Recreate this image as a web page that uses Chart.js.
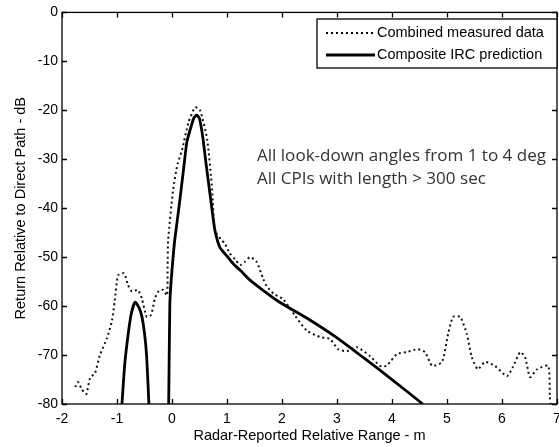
<!DOCTYPE html>
<html>
<head>
<meta charset="utf-8">
<script src="https://cdn.jsdelivr.net/npm/chart.js@4.4.0/dist/chart.umd.min.js"></script>
<style>
  html, body { margin: 0; padding: 0; background: #fff; overflow: hidden; }
  #wrap { width: 559px; height: 447px; }
</style>
</head>
<body>
<div id="wrap"><canvas id="irc" width="559" height="447"></canvas></div>
<script>
// Combined measured data (dotted)
const measX = [-1.76, -1.71, -1.64, -1.56, -1.49, -1.40, -1.31, -1.18, -1.09, -1.04,
    -0.98, -0.87, -0.80, -0.73, -0.62, -0.55, -0.46, -0.38, -0.31, -0.24,
    -0.16, -0.09, -0.08, -0.07, 0.02, 0.10, 0.18, 0.30, 0.42, 0.51,
    0.64, 0.73, 0.78, 0.90, 0.96, 1.05, 1.15, 1.24, 1.32, 1.42,
    1.54, 1.66, 1.72, 1.85, 2.02, 2.24, 2.45, 2.69, 2.87, 3.02,
    3.18, 3.36, 3.60, 3.78, 3.90, 4.09, 4.27, 4.47, 4.60, 4.73,
    4.91, 5.02, 5.11, 5.24, 5.36, 5.45, 5.56, 5.69, 5.87, 6.09,
    6.20, 6.33, 6.42, 6.51, 6.64, 6.84, 6.87, 6.88];
const measY = [-76.5, -75.5, -77, -78, -74.7, -73.7, -70, -66.5, -62.9, -58.8,
    -53.7, -53.3, -55.7, -57, -56.7, -58.4, -62.2, -61.8, -58.4, -56.9,
    -56.7, -57.8, -52, -46.5, -36.3, -31, -28.2, -22.5, -19.4, -20,
    -26, -36.3, -44.5, -46.5, -47.2, -49.2, -50.5, -51.6, -51, -50,
    -51, -54.5, -55.9, -57.5, -58.6, -62, -65, -66.3, -66.7, -68.8,
    -69.2, -68.4, -70.2, -72.2, -72.2, -69.8, -69.4, -68.8, -69.4, -72.2,
    -71.4, -65.7, -62.2, -62.2, -65.7, -70.4, -72.9, -71.4, -72.2, -74.3,
    -72.4, -69.4, -70.4, -74.5, -72.9, -72.2, -78.6, -80];

// Composite IRC prediction (solid); null splits the side lobe from the main lobe
const predX = [-0.91, -0.86, -0.80, -0.74, -0.67, -0.60, -0.55, -0.50, -0.46, -0.42,
    -0.2,
    -0.06, -0.04, -0.02, 0.02, 0.05, 0.09, 0.15, 0.20, 0.27, 0.33,
    0.40, 0.45, 0.50, 0.56, 0.62, 0.69, 0.73, 0.78, 0.87, 1.00,
    1.11, 1.25, 1.42, 1.60, 1.93, 2.5, 3.0, 3.5, 4.0, 4.56];
const predY = [-80, -72, -66, -61.5, -59.2, -60.3, -62, -65.5, -70.4, -80,
    null,
    -80, -60, -55.5, -50, -46.5, -43, -37.7, -33, -26.5, -24,
    -21.5, -21, -21.7, -25.5, -31, -37, -40.5, -44.5, -48, -49.8,
    -51.3, -52.8, -54.7, -56.3, -59, -62.8, -66.5, -70.7, -75, -80];

const xTicks = [-2, -1, 0, 1, 2, 3, 4, 5, 6, 7];
const yTicks = [0, -10, -20, -30, -40, -50, -60, -70, -80];

const noteLines = ['All look-down angles from 1 to 4 deg', 'All CPIs with length > 300 sec'];

function toPoints(xs, ys){
    return xs.map((x, i) => ({x: x, y: ys[i]}));
}

const FONT = 'Liberation Sans, Arial, sans-serif';

// matlab style box with inward ticks, legend box and the note text
const boxPlugin = {
    id: 'boxPlugin',
    afterDatasetsDraw(chart){
        const ctx = chart.ctx;
        const a = chart.chartArea;
        const xs = chart.scales.x, ys = chart.scales.y;
        ctx.save();
        ctx.strokeStyle = '#000';
        ctx.lineWidth = 1.3;
        ctx.strokeRect(a.left, a.top, a.right - a.left, a.bottom - a.top);
        ctx.beginPath();
        xTicks.forEach(v => {
            const p = Math.round(xs.getPixelForValue(v)) + 0.5;
            ctx.moveTo(p, a.bottom); ctx.lineTo(p, a.bottom - 5);
            ctx.moveTo(p, a.top); ctx.lineTo(p, a.top + 5);
        });
        yTicks.forEach(v => {
            const p = Math.round(ys.getPixelForValue(v)) + 0.5;
            ctx.moveTo(a.left, p); ctx.lineTo(a.left + 5, p);
            ctx.moveTo(a.right, p); ctx.lineTo(a.right - 5, p);
        });
        ctx.stroke();

        // legend
        const lx = 317, ly = 19, lw = 240, lh = 49;
        ctx.fillStyle = '#fff';
        ctx.fillRect(lx, ly, lw, lh);
        ctx.lineWidth = 1.3;
        ctx.strokeRect(lx, ly, lw, lh);
        ctx.font = '14.5px ' + FONT;
        ctx.fillStyle = '#000';
        ctx.textBaseline = 'middle';
        chart.data.datasets.forEach((ds, i) => {
            const yy = ly + 14 + i * 22;
            ctx.beginPath();
            ctx.lineWidth = ds.borderWidth;
            ctx.setLineDash(ds.borderDash || []);
            ctx.moveTo(326, yy); ctx.lineTo(375, yy);
            ctx.stroke();
            ctx.setLineDash([]);
            ctx.fillText(ds.label, 377, yy);
        });

        // note, a bit wider than Open Sans like the original
        ctx.font = '15.5px "Open Sans", sans-serif';
        ctx.fillStyle = '#333';
        noteLines.forEach((t, i) => {
            ctx.save();
            ctx.translate(257, 157 + i * 23);
            ctx.scale(1.1, 1);
            ctx.fillText(t, 0, 0);
            ctx.restore();
        });
        ctx.restore();
    }
};

new Chart(document.getElementById('irc').getContext('2d'), {
    type: 'line',
    data: {
        datasets: [
            {label: 'Combined measured data', data: toPoints(measX, measY),
             borderColor: '#111', borderWidth: 2, borderDash: [2, 3],
             pointRadius: 0, tension: 0.2, fill: false},
            {label: 'Composite IRC prediction', data: toPoints(predX, predY),
             borderColor: '#000', borderWidth: 2.8, spanGaps: false,
             pointRadius: 0, tension: 0.2, fill: false}
        ]
    },
    options: {
        responsive: false,
        animation: false,
        events: [],
        layout: {padding: {top: 12, right: 2, left: 0, bottom: 0}},
        plugins: {legend: {display: false}, tooltip: {enabled: false}},
        scales: {
            x: {
                type: 'linear', min: -2, max: 7,
                afterBuildTicks: s => { s.ticks = xTicks.map(v => ({value: v})); },
                afterFit: s => { s.height = 43; s.paddingLeft = 0; s.paddingRight = 0; },
                grid: {display: false, drawTicks: false},
                border: {display: false},
                ticks: {color: '#000', font: {family: FONT, size: 14}, padding: 7, maxRotation: 0},
                title: {display: true, text: 'Radar-Reported Relative Range - m', color: '#000',
                        font: {family: FONT, size: 14.5}, padding: {top: 0, bottom: 2}}
            },
            y: {
                type: 'linear', min: -80, max: 0,
                afterBuildTicks: s => { s.ticks = yTicks.map(v => ({value: v})); },
                afterFit: s => { s.width = 62; },
                grid: {display: false, drawTicks: false},
                border: {display: false},
                ticks: {color: '#000', font: {family: FONT, size: 14}, padding: 4},
                title: {display: true, text: 'Return Relative to Direct Path - dB', color: '#000',
                        font: {family: FONT, size: 14.5}, padding: {top: 12, bottom: 0}}
            }
        }
    },
    plugins: [boxPlugin]
});
</script>
</body>
</html>
